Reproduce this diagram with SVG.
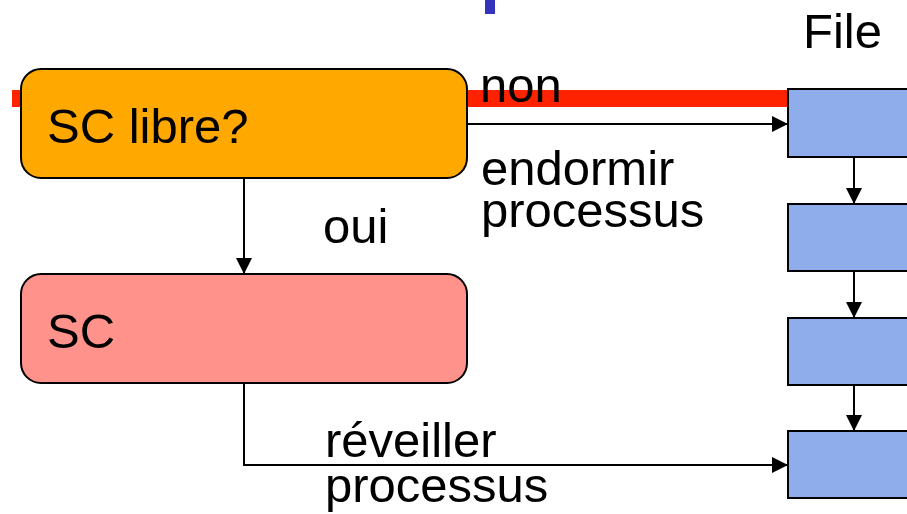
<svg xmlns="http://www.w3.org/2000/svg" width="907" height="514" viewBox="0 0 907 514">
  <style>
    text { font-family: "Liberation Sans", Arial, sans-serif; font-size: 49px; fill: #000; }
    .conn { fill: none; stroke: #000; stroke-width: 2; }
    .queue { fill: #8FADEB; stroke: #000; stroke-width: 2; }
  </style>
  <defs>
    <marker id="arrow" viewBox="0 0 16 16" refX="16" refY="8" markerWidth="16" markerHeight="16" markerUnits="userSpaceOnUse" orient="auto">
      <path d="M0,0 L16,8 L0,16 Z" fill="#000"/>
    </marker>
  </defs>

  <!-- background decorations -->
  <rect x="485" y="0" width="10" height="14" fill="#3333BB"/>
  <rect x="12" y="90" width="776" height="17" fill="#FF2200"/>

  <!-- decision node -->
  <g id="sc-libre">
    <rect x="21" y="69" width="446" height="109" rx="20" ry="20" fill="#FFA800" stroke="#000" stroke-width="2"/>
    <text x="47" y="143">SC libre?</text>
  </g>

  <!-- critical section node -->
  <g id="sc">
    <rect x="21" y="274" width="446" height="109" rx="20" ry="20" fill="#FF928A" stroke="#000" stroke-width="2"/>
    <text x="47" y="348">SC</text>
  </g>

  <!-- waiting queue -->
  <g id="file">
    <text x="803" y="48">File</text>
  </g>
  <g id="file-1"><rect class="queue" x="788" y="89" width="130" height="68"/></g>
  <g id="file-2"><rect class="queue" x="788" y="204" width="130" height="67"/></g>
  <g id="file-3"><rect class="queue" x="788" y="318" width="130" height="67"/></g>
  <g id="file-4"><rect class="queue" x="788" y="431" width="130" height="67"/></g>

  <!-- connectors -->
  <g id="connectors">
    <line class="conn" x1="467" y1="124" x2="788" y2="124" marker-end="url(#arrow)"/>
    <line class="conn" x1="244" y1="178" x2="244" y2="274" marker-end="url(#arrow)"/>
    <polyline class="conn" points="244,383 244,465 788,465" marker-end="url(#arrow)"/>
    <line class="conn" x1="854" y1="157" x2="854" y2="204" marker-end="url(#arrow)"/>
    <line class="conn" x1="854" y1="271" x2="854" y2="318" marker-end="url(#arrow)"/>
    <line class="conn" x1="854" y1="385" x2="854" y2="431" marker-end="url(#arrow)"/>
  </g>

  <!-- connector labels -->
  <text x="480" y="102">non</text>
  <text x="481" y="185">endormir</text>
  <text x="481" y="227">processus</text>
  <text x="323" y="243">oui</text>
  <text x="325" y="457">réveiller</text>
  <text x="325" y="502">processus</text>
</svg>
